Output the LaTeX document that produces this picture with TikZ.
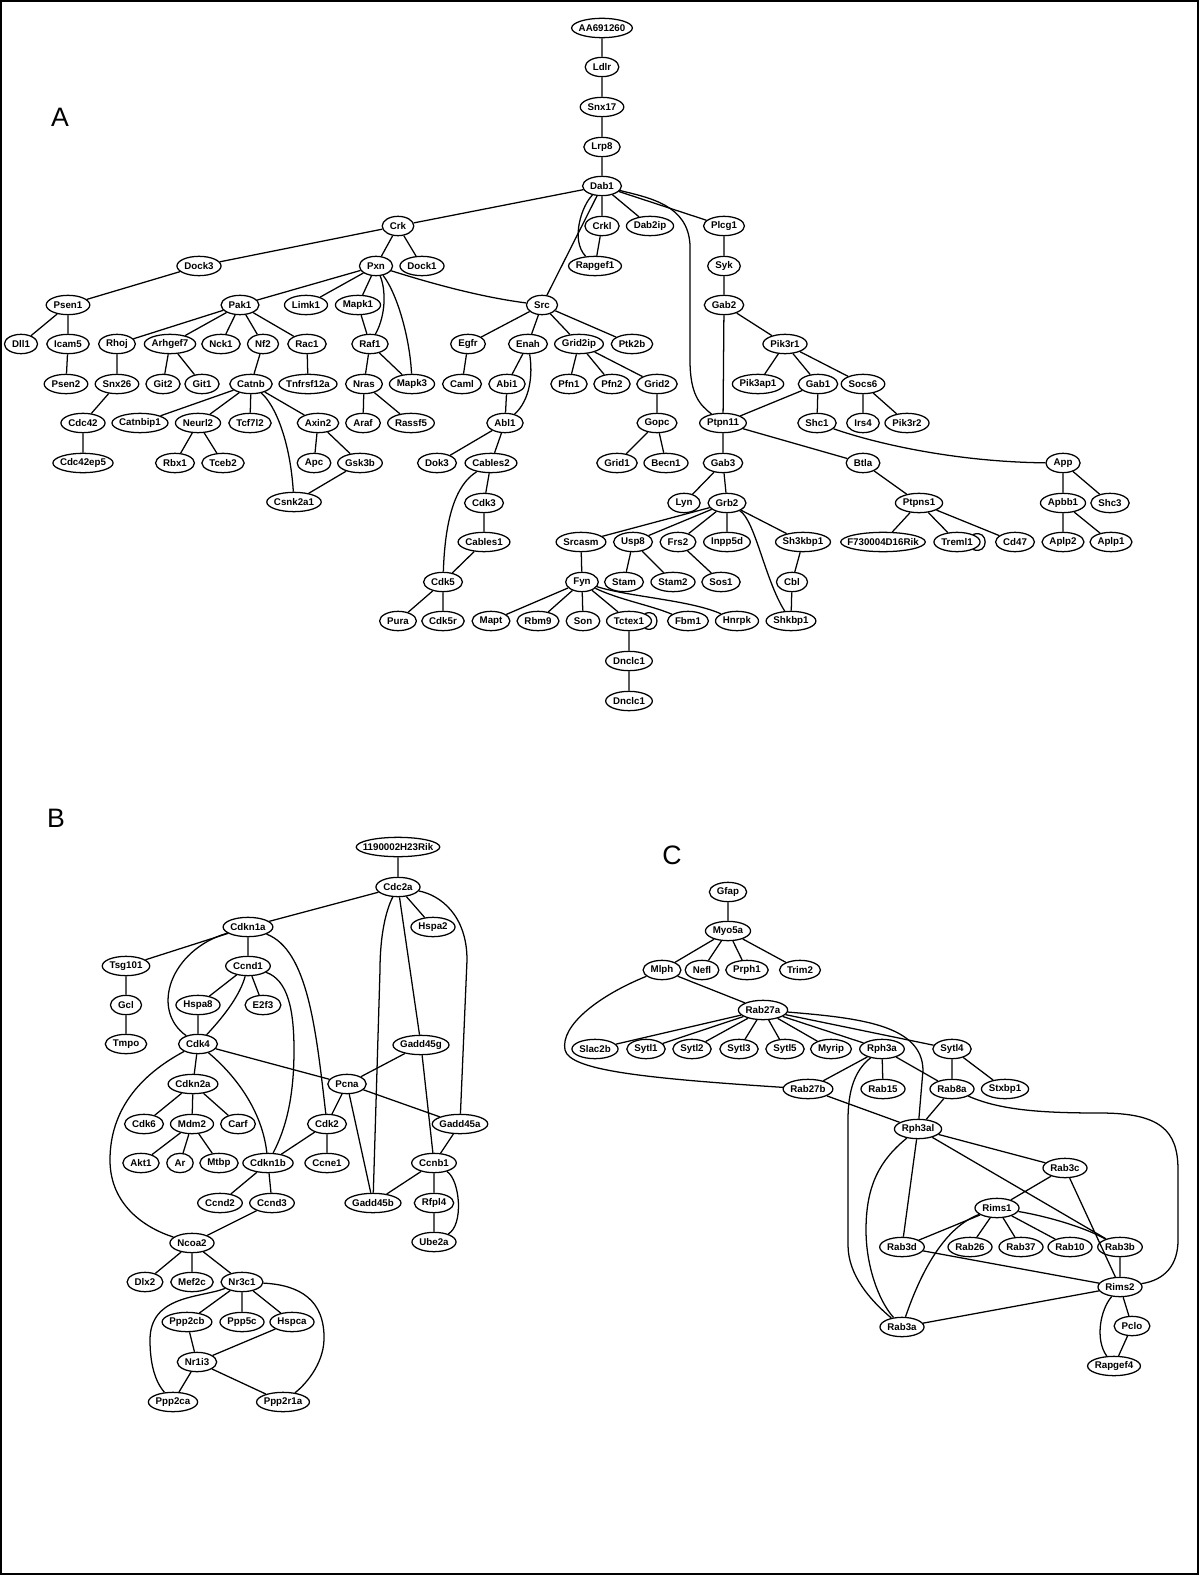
\documentclass[tikz,border=0pt]{standalone}
\usepackage{fontspec}
\setmainfont{Liberation Sans}
\usetikzlibrary{shapes.geometric}
\newlength\gnw
\newcommand\gl[1]{\settowidth{\gnw}{#1}\gnw=0.679\gnw\advance\gnw by 8.49pt\makebox[\gnw]{#1}}
\newcommand\gfont{\fontsize{7.3pt}{8pt}\selectfont\bfseries}
\tikzset{
  gn/.style={draw, ellipse, inner sep=0pt, minimum height=14.5pt, font=\gfont},
  panel/.style={font=\fontsize{20pt}{24pt}\selectfont},
}
\begin{document}
\begin{tikzpicture}[x=0.75pt,y=0.75pt,line width=0.95pt]
\useasboundingbox (0,0) rectangle (1200,-1576);
\draw[line width=1.5pt] (1,-1) rectangle (1198,-1574);
\node[panel] (labA) at (60,-117) {A};
\node[panel] (labB) at (56,-818) {B};
\node[panel] (labC) at (672,-855) {C};
% ---------------- A ----------------
\node[gn] (aa) at (602,-28) {\gl{AA691260}};
\node[gn] (ldlr) at (602,-67) {\gl{Ldlr}};
\node[gn] (snx17) at (602,-107) {\gl{Snx17}};
\node[gn] (lrp8) at (602,-147) {\gl{Lrp8}};
\node[gn] (dab1) at (602,-186) {\gl{Dab1}};
\node[gn] (crk) at (398,-226) {\gl{Crk}};
\node[gn] (crkl) at (602,-226) {\gl{Crkl}};
\node[gn] (dab2ip) at (650,-226) {\gl{Dab2ip}};
\node[gn] (plcg1) at (724,-226) {\gl{Plcg1}};
\node[gn] (dock3) at (199,-266) {\gl{Dock3}};
\node[gn] (pxn) at (376,-266) {\gl{Pxn}};
\node[gn] (dock1) at (422,-266) {\gl{Dock1}};
\node[gn] (rapgef1) at (595,-266) {\gl{Rapgef1}};
\node[gn] (syk) at (724,-266) {\gl{Syk}};
\node[gn] (psen1) at (68,-305) {\gl{Psen1}};
\node[gn] (pak1) at (240,-305) {\gl{Pak1}};
\node[gn] (limk1) at (306,-305) {\gl{Limk1}};
\node[gn] (mapk1) at (358,-305) {\gl{Mapk1}};
\node[gn] (src) at (542,-305) {\gl{Src}};
\node[gn] (gab2) at (724,-305) {\gl{Gab2}};
\node[gn] (dll1) at (21,-344) {\gl{Dll1}};
\node[gn] (icam5) at (68,-344) {\gl{Icam5}};
\node[gn] (rhoj) at (117,-344) {\gl{Rhoj}};
\node[gn] (arhgef7) at (170,-344) {\gl{Arhgef7}};
\node[gn] (nck1) at (221,-344) {\gl{Nck1}};
\node[gn] (nf2) at (263,-344) {\gl{Nf2}};
\node[gn] (rac1) at (307,-344) {\gl{Rac1}};
\node[gn] (raf1) at (370,-344) {\gl{Raf1}};
\node[gn] (egfr) at (468,-344) {\gl{Egfr}};
\node[gn] (enah) at (528,-344) {\gl{Enah}};
\node[gn] (grid2ip) at (579,-344) {\gl{Grid2ip}};
\node[gn] (ptk2b) at (632,-344) {\gl{Ptk2b}};
\node[gn] (pik3r1) at (785,-344) {\gl{Pik3r1}};
\node[gn] (psen2) at (66,-384) {\gl{Psen2}};
\node[gn] (snx26) at (117,-384) {\gl{Snx26}};
\node[gn] (git2) at (163,-384) {\gl{Git2}};
\node[gn] (git1) at (202,-384) {\gl{Git1}};
\node[gn] (catnb) at (251,-384) {\gl{Catnb}};
\node[gn] (tnfrsf) at (308,-384) {\gl{Tnfrsf12a}};
\node[gn] (nras) at (364,-384) {\gl{Nras}};
\node[gn] (mapk3) at (412,-384) {\gl{Mapk3}};
\node[gn] (caml) at (462,-384) {\gl{Caml}};
\node[gn] (abi1) at (507,-384) {\gl{Abi1}};
\node[gn] (pfn1) at (569,-384) {\gl{Pfn1}};
\node[gn] (pfn2) at (612,-384) {\gl{Pfn2}};
\node[gn] (grid2) at (657,-384) {\gl{Grid2}};
\node[gn] (pik3ap1) at (758,-384) {\gl{Pik3ap1}};
\node[gn] (gab1) at (818,-384) {\gl{Gab1}};
\node[gn] (socs6) at (863,-384) {\gl{Socs6}};
\node[gn] (cdc42) at (83,-423) {\gl{Cdc42}};
\node[gn] (catnbip1) at (140,-423) {\gl{Catnbip1}};
\node[gn] (neurl2) at (198,-423) {\gl{Neurl2}};
\node[gn] (tcf7l2) at (250,-423) {\gl{Tcf7l2}};
\node[gn] (axin2) at (318,-423) {\gl{Axin2}};
\node[gn] (araf) at (363,-423) {\gl{Araf}};
\node[gn] (rassf5) at (411,-423) {\gl{Rassf5}};
\node[gn] (abl1) at (505,-423) {\gl{Abl1}};
\node[gn] (gopc) at (657,-423) {\gl{Gopc}};
\node[gn] (ptpn11) at (723,-423) {\gl{Ptpn11}};
\node[gn] (shc1) at (817,-423) {\gl{Shc1}};
\node[gn] (irs4) at (863,-423) {\gl{Irs4}};
\node[gn] (pik3r2) at (907,-423) {\gl{Pik3r2}};
\node[gn] (cdc42ep5) at (83,-463) {\gl{Cdc42ep5}};
\node[gn] (rbx1) at (175,-463) {\gl{Rbx1}};
\node[gn] (tceb2) at (223,-463) {\gl{Tceb2}};
\node[gn] (apc) at (314,-463) {\gl{Apc}};
\node[gn] (gsk3b) at (360,-463) {\gl{Gsk3b}};
\node[gn] (dok3) at (437,-463) {\gl{Dok3}};
\node[gn] (cables2) at (491,-463) {\gl{Cables2}};
\node[gn] (grid1) at (617,-463) {\gl{Grid1}};
\node[gn] (becn1) at (666,-463) {\gl{Becn1}};
\node[gn] (gab3) at (723,-463) {\gl{Gab3}};
\node[gn] (btla) at (863,-463) {\gl{Btla}};
\node[gn] (app) at (1063,-463) {\gl{App}};
\node[gn] (csnk2a1) at (294,-502) {\gl{Csnk2a1}};
\node[gn] (cdk3) at (484,-503) {\gl{Cdk3}};
\node[gn] (lyn) at (684,-503) {\gl{Lyn}};
\node[gn] (grb2) at (727,-503) {\gl{Grb2}};
\node[gn] (ptpns1) at (919,-503) {\gl{Ptpns1}};
\node[gn] (apbb1) at (1063,-503) {\gl{Apbb1}};
\node[gn] (shc3) at (1110,-503) {\gl{Shc3}};
\node[gn] (cables1) at (484,-542) {\gl{Cables1}};
\node[gn] (srcasm) at (581,-542) {\gl{Srcasm}};
\node[gn] (usp8) at (633,-542) {\gl{Usp8}};
\node[gn] (frs2) at (678,-542) {\gl{Frs2}};
\node[gn] (inpp5d) at (727,-542) {\gl{Inpp5d}};
\node[gn] (sh3kbp1) at (803,-542) {\gl{Sh3kbp1}};
\node[gn] (f7300) at (883,-542) {\gl{F730004D16Rik}};
\node[gn] (treml1) at (957,-542) {\gl{Treml1}};
\node[gn] (cd47) at (1015,-542) {\gl{Cd47}};
\node[gn] (aplp2) at (1063,-542) {\gl{Aplp2}};
\node[gn] (aplp1) at (1111,-542) {\gl{Aplp1}};
\node[gn] (cdk5) at (443,-582) {\gl{Cdk5}};
\node[gn] (fyn) at (582,-582) {\gl{Fyn}};
\node[gn] (stam) at (624,-582) {\gl{Stam}};
\node[gn] (stam2) at (673,-582) {\gl{Stam2}};
\node[gn] (sos1) at (721,-582) {\gl{Sos1}};
\node[gn] (cbl) at (792,-582) {\gl{Cbl}};
\node[gn] (pura) at (398,-621) {\gl{Pura}};
\node[gn] (cdk5r) at (443,-621) {\gl{Cdk5r}};
\node[gn] (mapt) at (491,-621) {\gl{Mapt}};
\node[gn] (rbm9) at (538,-621) {\gl{Rbm9}};
\node[gn] (son) at (583,-621) {\gl{Son}};
\node[gn] (tctex1) at (629,-621) {\gl{Tctex1}};
\node[gn] (fbm1) at (688,-621) {\gl{Fbm1}};
\node[gn] (hnrpk) at (737,-621) {\gl{Hnrpk}};
\node[gn] (shkbp1) at (791,-621) {\gl{Shkbp1}};
\node[gn] (dnclc1a) at (629,-661) {\gl{Dnclc1}};
\node[gn] (dnclc1b) at (629,-701) {\gl{Dnclc1}};
% A edges
\draw (aa)--(ldlr) (ldlr)--(snx17) (snx17)--(lrp8) (lrp8)--(dab1)
  (dab1)--(crk) (dab1)--(crkl) (dab1)--(dab2ip) (dab1)--(plcg1) (dab1)--(src)
  (crkl)--(rapgef1) (plcg1)--(syk) (syk)--(gab2) (gab2)--(ptpn11) (gab2)--(pik3r1)
  (crk)--(dock3) (crk)--(pxn) (crk)--(dock1)
  (dock3)--(psen1) (psen1)--(dll1) (psen1)--(icam5) (icam5)--(psen2)
  (pxn)--(pak1) (pxn)--(limk1) (pxn)--(mapk1) (mapk1)--(raf1) (raf1)--(nras) (raf1)--(mapk3)
  (nras)--(araf) (nras)--(rassf5)
  (pak1)--(rhoj) (pak1)--(arhgef7) (pak1)--(nck1) (pak1)--(nf2) (pak1)--(rac1)
  (rhoj)--(snx26) (snx26)--(cdc42) (cdc42)--(cdc42ep5) (arhgef7)--(git2) (arhgef7)--(git1)
  (nf2)--(catnb) (rac1)--(tnfrsf)
  (catnb)--(catnbip1) (catnb)--(neurl2) (catnb)--(tcf7l2) (catnb)--(axin2)
  (neurl2)--(rbx1) (neurl2)--(tceb2) (axin2)--(apc) (axin2)--(gsk3b) (gsk3b)--(csnk2a1)
  (src)--(egfr) (src)--(enah) (src)--(grid2ip) (src)--(ptk2b) (egfr)--(caml) (enah)--(abi1) (abi1)--(abl1)
  (grid2ip)--(pfn1) (grid2ip)--(pfn2) (grid2ip)--(grid2) (grid2)--(gopc) (gopc)--(grid1) (gopc)--(becn1)
  (abl1)--(dok3) (abl1)--(cables2) (cables2)--(cdk3) (cdk3)--(cables1) (cables1)--(cdk5)
  (cdk5)--(pura) (cdk5)--(cdk5r)
  (pik3r1)--(pik3ap1) (pik3r1)--(gab1) (pik3r1)--(socs6) (gab1)--(ptpn11) (gab1)--(shc1)
  (socs6)--(irs4) (socs6)--(pik3r2)
  (ptpn11)--(gab3) (ptpn11)--(btla) (btla)--(ptpns1) (ptpns1)--(f7300) (ptpns1)--(treml1) (ptpns1)--(cd47)
  (app)--(apbb1) (app)--(shc3) (apbb1)--(aplp2) (apbb1)--(aplp1)
  (gab3)--(lyn) (gab3)--(grb2) (grb2)--(srcasm) (grb2)--(usp8) (grb2)--(frs2) (grb2)--(inpp5d) (grb2)--(sh3kbp1)
  (srcasm)--(fyn) (usp8)--(stam) (usp8)--(stam2) (frs2)--(sos1) (sh3kbp1)--(cbl) (cbl)--(shkbp1)
  (fyn)--(mapt) (fyn)--(rbm9) (fyn)--(son) (fyn)--(tctex1) (tctex1)--(dnclc1a) (dnclc1a)--(dnclc1b);
\draw (dab1) .. controls (582,-205) and (570,-240) .. (rapgef1);
\draw (dab1) .. controls (650,-198) and (688,-205) .. (690,-245) -- (690,-360) .. controls (690,-395) and (700,-405) .. (ptpn11);
\draw (pxn) .. controls (386,-290) and (386,-315) .. (raf1);
\draw (pxn) .. controls (398,-295) and (410,-340) .. (mapk3);
\draw (pxn) .. controls (430,-283) and (480,-297) .. (src);
\draw (enah) .. controls (533,-375) and (530,-400) .. (abl1);
\draw (cables2) .. controls (455,-485) and (445,-520) .. (cdk5);
\draw (catnb) .. controls (275,-405) and (290,-440) .. (csnk2a1);
\draw (grb2) .. controls (755,-520) and (765,-580) .. (shkbp1);
\draw (shc1) .. controls (880,-445) and (960,-462) .. (app);
\draw (fyn) .. controls (620,-600) and (650,-605) .. (fbm1);
\draw (fyn) .. controls (630,-597) and (690,-600) .. (hnrpk);
\draw (tctex1.25) .. controls +(16,6) and +(16,-6) .. (tctex1.-25);
\draw (treml1.25) .. controls +(16,6) and +(16,-6) .. (treml1.-25);
% ---------------- B ----------------
\node[gn] (rik) at (398,-847) {\gl{1190002H23Rik}};
\node[gn] (cdc2a) at (398,-887) {\gl{Cdc2a}};
\node[gn] (cdkn1a) at (248,-927) {\gl{Cdkn1a}};
\node[gn] (hspa2) at (433,-927) {\gl{Hspa2}};
\node[gn] (tsg101) at (126,-966) {\gl{Tsg101}};
\node[gn] (ccnd1) at (248,-966) {\gl{Ccnd1}};
\node[gn] (gcl) at (126,-1005) {\gl{Gcl}};
\node[gn] (hspa8) at (198,-1005) {\gl{Hspa8}};
\node[gn] (e2f3) at (263,-1005) {\gl{E2f3}};
\node[gn] (tmpo) at (126,-1044) {\gl{Tmpo}};
\node[gn] (cdk4) at (198,-1044) {\gl{Cdk4}};
\node[gn] (gadd45g) at (421,-1045) {\gl{Gadd45g}};
\node[gn] (cdkn2a) at (193,-1084) {\gl{Cdkn2a}};
\node[gn] (pcna) at (347,-1084) {\gl{Pcna}};
\node[gn] (cdk6) at (144,-1124) {\gl{Cdk6}};
\node[gn] (mdm2) at (192,-1124) {\gl{Mdm2}};
\node[gn] (carf) at (238,-1124) {\gl{Carf}};
\node[gn] (cdk2) at (327,-1124) {\gl{Cdk2}};
\node[gn] (gadd45a) at (460,-1124) {\gl{Gadd45a}};
\node[gn] (akt1) at (141,-1163) {\gl{Akt1}};
\node[gn] (ar) at (180,-1163) {\gl{Ar}};
\node[gn] (mtbp) at (219,-1163) {\gl{Mtbp}};
\node[gn] (cdkn1b) at (268,-1163) {\gl{Cdkn1b}};
\node[gn] (ccne1) at (327,-1163) {\gl{Ccne1}};
\node[gn] (ccnb1) at (434,-1163) {\gl{Ccnb1}};
\node[gn] (ccnd2) at (220,-1203) {\gl{Ccnd2}};
\node[gn] (ccnd3) at (272,-1203) {\gl{Ccnd3}};
\node[gn] (gadd45b) at (373,-1203) {\gl{Gadd45b}};
\node[gn] (rfpl4) at (434,-1203) {\gl{Rfpl4}};
\node[gn] (ncoa2) at (192,-1243) {\gl{Ncoa2}};
\node[gn] (ube2a) at (434,-1242) {\gl{Ube2a}};
\node[gn] (dlx2) at (145,-1282) {\gl{Dlx2}};
\node[gn] (mef2c) at (192,-1282) {\gl{Mef2c}};
\node[gn] (nr3c1) at (242,-1282) {\gl{Nr3c1}};
\node[gn] (ppp2cb) at (187,-1322) {\gl{Ppp2cb}};
\node[gn] (ppp5c) at (242,-1322) {\gl{Ppp5c}};
\node[gn] (hspca) at (292,-1322) {\gl{Hspca}};
\node[gn] (nr1i3) at (197,-1362) {\gl{Nr1i3}};
\node[gn] (ppp2ca) at (173,-1402) {\gl{Ppp2ca}};
\node[gn] (ppp2r1a) at (283,-1402) {\gl{Ppp2r1a}};
\draw (rik)--(cdc2a) (cdc2a)--(cdkn1a) (cdc2a)--(hspa2) (cdc2a)--(gadd45g)
  (cdkn1a)--(tsg101) (cdkn1a)--(ccnd1) (tsg101)--(gcl) (gcl)--(tmpo)
  (ccnd1)--(hspa8) (ccnd1)--(e2f3) (hspa8)--(cdk4) (cdk4)--(cdkn2a) (cdk4)--(pcna)
  (cdkn2a)--(cdk6) (cdkn2a)--(mdm2) (cdkn2a)--(carf) (mdm2)--(akt1) (mdm2)--(ar) (mdm2)--(mtbp)
  (gadd45g)--(pcna) (gadd45g)--(ccnb1) (pcna)--(cdk2) (pcna)--(gadd45a) (pcna)--(gadd45b)
  (cdk2)--(cdkn1b) (cdk2)--(ccne1) (cdkn1b)--(ccnd2) (cdkn1b)--(ccnd3) (ccnd3)--(ncoa2)
  (gadd45a)--(ccnb1) (ccnb1)--(gadd45b) (ccnb1)--(rfpl4) (rfpl4)--(ube2a)
  (ncoa2)--(dlx2) (ncoa2)--(mef2c) (ncoa2)--(nr3c1) (nr3c1)--(ppp2cb) (nr3c1)--(ppp5c) (nr3c1)--(hspca)
  (ppp2cb)--(nr1i3) (hspca)--(nr1i3) (nr1i3)--(ppp2ca) (nr1i3)--(ppp2r1a);
\draw (cdc2a) .. controls (386,-910) and (380,-935) .. (380,-970) -- (gadd45b);
\draw (cdc2a) .. controls (440,-895) and (467,-915) .. (467,-960) -- (gadd45a);
\draw (cdkn1a) .. controls (170,-950) and (150,-1010) .. (cdk4);
\draw (cdkn1a) .. controls (308,-950) and (316,-1030) .. (cdk2);
\draw (ccnd1) .. controls (240,-995) and (225,-1015) .. (cdk4);
\draw (ccnd1) .. controls (288,-980) and (294,-1010) .. (294,-1050) .. controls (294,-1100) and (285,-1130) .. (cdkn1b);
\draw (cdk4) .. controls (140,-1075) and (110,-1110) .. (110,-1160) .. controls (110,-1205) and (145,-1228) .. (ncoa2);
\draw (cdk4) .. controls (235,-1075) and (262,-1110) .. (cdkn1b);
\draw (ccnb1) .. controls (460,-1180) and (464,-1225) .. (ube2a);
\draw (nr3c1) .. controls (200,-1298) and (150,-1295) .. (150,-1340) .. controls (150,-1370) and (158,-1385) .. (ppp2ca);
\draw (nr3c1) .. controls (300,-1285) and (325,-1300) .. (324,-1340) .. controls (323,-1365) and (305,-1385) .. (ppp2r1a);
% ---------------- C ----------------
\node[gn] (gfap) at (728,-892) {\gl{Gfap}};
\node[gn] (myo5a) at (728,-931) {\gl{Myo5a}};
\node[gn] (mlph) at (662,-970) {\gl{Mlph}};
\node[gn] (nefl) at (702,-970) {\gl{Nefl}};
\node[gn] (prph1) at (747,-970) {\gl{Prph1}};
\node[gn] (trim2) at (800,-970) {\gl{Trim2}};
\node[gn] (rab27a) at (763,-1010) {\gl{Rab27a}};
\node[gn] (slac2b) at (595,-1049) {\gl{Slac2b}};
\node[gn] (sytl1) at (646,-1049) {\gl{Sytl1}};
\node[gn] (sytl2) at (692,-1049) {\gl{Sytl2}};
\node[gn] (sytl3) at (739,-1049) {\gl{Sytl3}};
\node[gn] (sytl5) at (785,-1049) {\gl{Sytl5}};
\node[gn] (myrip) at (831,-1049) {\gl{Myrip}};
\node[gn] (rph3a) at (882,-1049) {\gl{Rph3a}};
\node[gn] (sytl4) at (952,-1049) {\gl{Sytl4}};
\node[gn] (rab27b) at (808,-1089) {\gl{Rab27b}};
\node[gn] (rab15) at (883,-1089) {\gl{Rab15}};
\node[gn] (rab8a) at (952,-1089) {\gl{Rab8a}};
\node[gn] (stxbp1) at (1005,-1089) {\gl{Stxbp1}};
\node[gn] (rph3al) at (918,-1129) {\gl{Rph3al}};
\node[gn] (rab3c) at (1065,-1168) {\gl{Rab3c}};
\node[gn] (rims1) at (997,-1208) {\gl{Rims1}};
\node[gn] (rab3d) at (902,-1247) {\gl{Rab3d}};
\node[gn] (rab26) at (970,-1247) {\gl{Rab26}};
\node[gn] (rab37) at (1021,-1247) {\gl{Rab37}};
\node[gn] (rab10) at (1070,-1247) {\gl{Rab10}};
\node[gn] (rab3b) at (1120,-1247) {\gl{Rab3b}};
\node[gn] (rims2) at (1120,-1287) {\gl{Rims2}};
\node[gn] (pclo) at (1132,-1326) {\gl{Pclo}};
\node[gn] (rab3a) at (902,-1327) {\gl{Rab3a}};
\node[gn] (rapgef4) at (1114,-1366) {\gl{Rapgef4}};
\draw (gfap)--(myo5a) (myo5a)--(mlph) (myo5a)--(nefl) (myo5a)--(prph1) (myo5a)--(trim2) (mlph)--(rab27a)
  (rab27a)--(slac2b) (rab27a)--(sytl1) (rab27a)--(sytl2) (rab27a)--(sytl3) (rab27a)--(sytl5)
  (rab27a)--(myrip) (rab27a)--(rph3a) (rab27a)--(sytl4)
  (rph3a)--(rab27b) (rph3a)--(rab15) (rph3a)--(rab8a) (sytl4)--(rab8a) (sytl4)--(stxbp1)
  (rab8a)--(rph3al) (rab27b)--(rph3al) (rph3al)--(rab3c) (rph3al)--(rab3d) (rph3al)--(rab3b)
  (rab3c)--(rims1) (rab3c)--(rims2) (rims1)--(rab3d) (rims1)--(rab26) (rims1)--(rab37) (rims1)--(rab10)
  (rab3d)--(rims2) (rab3a)--(rims2) (rab3b)--(rims2) (rims2)--(pclo) (pclo)--(rapgef4);
\draw (mlph) .. controls (600,-995) and (560,-1025) .. (565,-1050) .. controls (570,-1070) and (640,-1078) .. (rab27b);
\draw (rab27a) .. controls (860,-1018) and (922,-1025) .. (923,-1070) -- (rph3al);
\draw (rph3a) .. controls (855,-1070) and (848,-1090) .. (848,-1120) -- (848,-1245) .. controls (848,-1275) and (870,-1300) .. (rab3a);
\draw (rab8a) .. controls (1000,-1110) and (1040,-1113) .. (1100,-1113) .. controls (1160,-1113) and (1178,-1130) .. (1178,-1170) -- (1178,-1240) .. controls (1178,-1265) and (1165,-1280) .. (rims2);
\draw (rph3al) .. controls (880,-1160) and (866,-1185) .. (866,-1230) .. controls (866,-1265) and (878,-1300) .. (rab3a);
\draw (rims1) .. controls (1040,-1215) and (1080,-1225) .. (rab3b);
\draw (rims1) .. controls (950,-1225) and (925,-1260) .. (rab3a);
\draw (rims2) .. controls (1100,-1310) and (1095,-1340) .. (rapgef4);
\end{tikzpicture}
\end{document}
